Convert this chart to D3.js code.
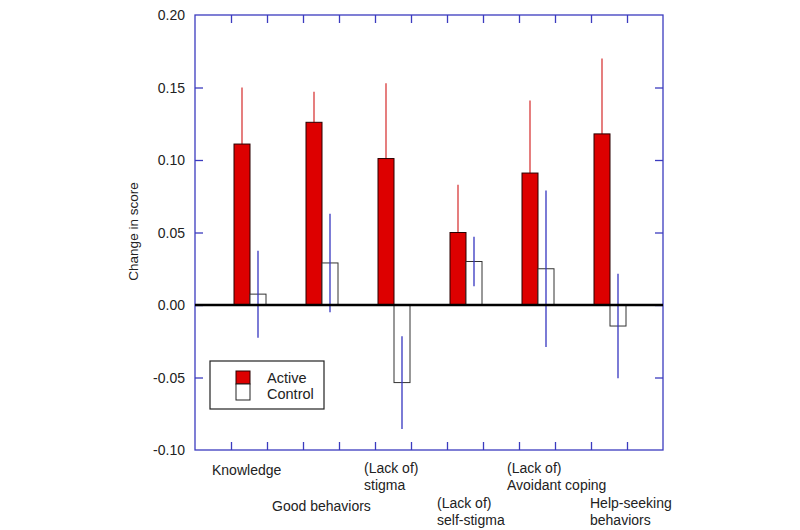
<!DOCTYPE html>
<html>
<head>
<meta charset="utf-8">
<script src="https://cdn.jsdelivr.net/npm/d3@7"></script>
<style>
  html, body { margin: 0; padding: 0; background: #fff; }
  svg { display: block; }
  text { font-family: "Liberation Sans", Arial, sans-serif; fill: #222; }
</style>
</head>
<body>
<svg id="chart" width="800" height="530"></svg>
<script>
// ---- data ----
const categories = [
  ["Knowledge"],
  ["Good behaviors"],
  ["(Lack of)", "stigma"],
  ["(Lack of)", "self-stigma"],
  ["(Lack of)", "Avoidant coping"],
  ["Help-seeking", "behaviors"]
];
const activeValues  = [0.111, 0.126, 0.101, 0.050, 0.091, 0.118];
const activeErr     = [0.039, 0.021, 0.052, 0.033, 0.050, 0.052];
const controlValues = [0.0075, 0.029, -0.0535, 0.030, 0.025, -0.0145];
const controlErr    = [0.030, 0.034, 0.032, 0.017, 0.054, 0.036];
const yTicks = [-0.10, -0.05, 0.00, 0.05, 0.10, 0.15, 0.20];
const xTickCount = 12;
const seriesNames = ["Active", "Control"];
// label row (0 = upper row, 1 = lower row)
const labelRow = [0, 1, 0, 1, 0, 1];

(function () {
// ---- layout ----
const pL = 195, pR = 663, pT = 15, pB = 450;
const svg = d3.select("#chart");
const x = d3.scaleLinear().domain([0, 13]).range([pL, pR]);
const y = d3.scaleLinear().domain([-0.10, 0.20]).range([pB, pT]);
const barW = 16;
const frameColor = "#3b3bbf";
const red = "#dd0000";
const labelShift = [-1, -13, 7, 8, 6, 17];

const groupPos = i => x(1.5 + 2 * i) + 1;

// frame
svg.append("rect")
  .attr("x", pL).attr("y", pT)
  .attr("width", pR - pL).attr("height", pB - pT)
  .attr("fill", "none").attr("stroke", frameColor).attr("stroke-width", 1.3);

// axes with inward ticks
const xt = d3.range(1, xTickCount + 1);
const gTop = svg.append("g").attr("transform", `translate(0,${pT})`)
  .call(d3.axisBottom(x).tickValues(xt).tickSize(8).tickFormat(""));
const gBot = svg.append("g").attr("transform", `translate(0,${pB})`)
  .call(d3.axisTop(x).tickValues(xt).tickSize(8).tickFormat(""));
const gLeft = svg.append("g").attr("transform", `translate(${pL},0)`)
  .call(d3.axisRight(y).tickValues(yTicks.slice(1, -1)).tickSize(8).tickFormat(""));
const gRight = svg.append("g").attr("transform", `translate(${pR},0)`)
  .call(d3.axisLeft(y).tickValues(yTicks.slice(1, -1)).tickSize(8).tickFormat(""));
[gTop, gBot, gLeft, gRight].forEach(g => {
  g.select(".domain").remove();
  g.selectAll("line").attr("stroke", frameColor).attr("stroke-width", 1.3);
});

// y tick labels (hyphen minus as in the original)
const fmt = d => (d < 0 ? "-" : "") + Math.abs(d).toFixed(2);
svg.append("g").selectAll("text").data(yTicks).join("text")
  .attr("x", pL - 10).attr("y", d => y(d) + 5)
  .attr("text-anchor", "end").attr("font-size", 14)
  .text(fmt);

// y axis title
svg.append("text")
  .attr("transform", `translate(138,${(pT + pB) / 2 - 1}) rotate(-90)`)
  .attr("text-anchor", "middle").attr("font-size", 13.5)
  .text("Change in score");

// active error bars (behind bars)
svg.append("g").selectAll("line").data(activeValues).join("line")
  .attr("x1", (d, i) => groupPos(i) - barW / 2)
  .attr("x2", (d, i) => groupPos(i) - barW / 2)
  .attr("y1", (d, i) => y(d - activeErr[i]))
  .attr("y2", (d, i) => y(d + activeErr[i]))
  .attr("stroke", "#d83a3a").attr("stroke-width", 1.3);

// active bars
svg.append("g").selectAll("rect").data(activeValues).join("rect")
  .attr("x", (d, i) => groupPos(i) - barW)
  .attr("y", d => y(Math.max(0, d)))
  .attr("width", barW)
  .attr("height", d => Math.abs(y(d) - y(0)))
  .attr("fill", red).attr("stroke", "#2a0000").attr("stroke-width", 1);

// control bars
svg.append("g").selectAll("rect").data(controlValues).join("rect")
  .attr("x", (d, i) => groupPos(i))
  .attr("y", d => y(Math.max(0, d)))
  .attr("width", barW)
  .attr("height", d => Math.abs(y(d) - y(0)))
  .attr("fill", "#fff").attr("stroke", "#333").attr("stroke-width", 1);

// control error bars (over bars)
svg.append("g").selectAll("line").data(controlValues).join("line")
  .attr("x1", (d, i) => groupPos(i) + barW / 2)
  .attr("x2", (d, i) => groupPos(i) + barW / 2)
  .attr("y1", (d, i) => y(d - controlErr[i]))
  .attr("y2", (d, i) => y(d + controlErr[i]))
  .attr("stroke", "#3535c0").attr("stroke-width", 1.3);

// zero line
svg.append("line")
  .attr("x1", pL).attr("x2", pR)
  .attr("y1", y(0)).attr("y2", y(0))
  .attr("stroke", "#000").attr("stroke-width", 2.6);

// category labels
const lab = svg.append("g");
categories.forEach((lines, i) => {
  const nLines = lines.length;
  const lastBase = labelRow[i] === 0 ? (nLines === 1 ? 475 : 490) : (nLines === 1 ? 511 : 525);
  const lx = x(2 * i + 0.5) + labelShift[i];
  lines.forEach((t, k) => {
    lab.append("text")
      .attr("x", lx)
      .attr("y", lastBase - (nLines - 1 - k) * 17.5)
      .attr("font-size", 14)
      .text(t);
  });
});

// legend
const lg = svg.append("g");
lg.append("rect").attr("x", 210).attr("y", 361).attr("width", 114).attr("height", 48)
  .attr("fill", "#fff").attr("stroke", "#222").attr("stroke-width", 1.2);
lg.append("rect").attr("x", 236).attr("y", 371).attr("width", 14).attr("height", 13)
  .attr("fill", red).attr("stroke", "#2a0000").attr("stroke-width", 1);
lg.append("rect").attr("x", 236).attr("y", 384).attr("width", 14).attr("height", 16)
  .attr("fill", "#fff").attr("stroke", "#222").attr("stroke-width", 1);
lg.selectAll("text.leg").data(seriesNames).join("text")
  .attr("class", "leg")
  .attr("x", 267).attr("y", (d, i) => 383 + i * 16)
  .attr("font-size", 14.5)
  .text(d => d);
})();
</script>
</body>
</html>
